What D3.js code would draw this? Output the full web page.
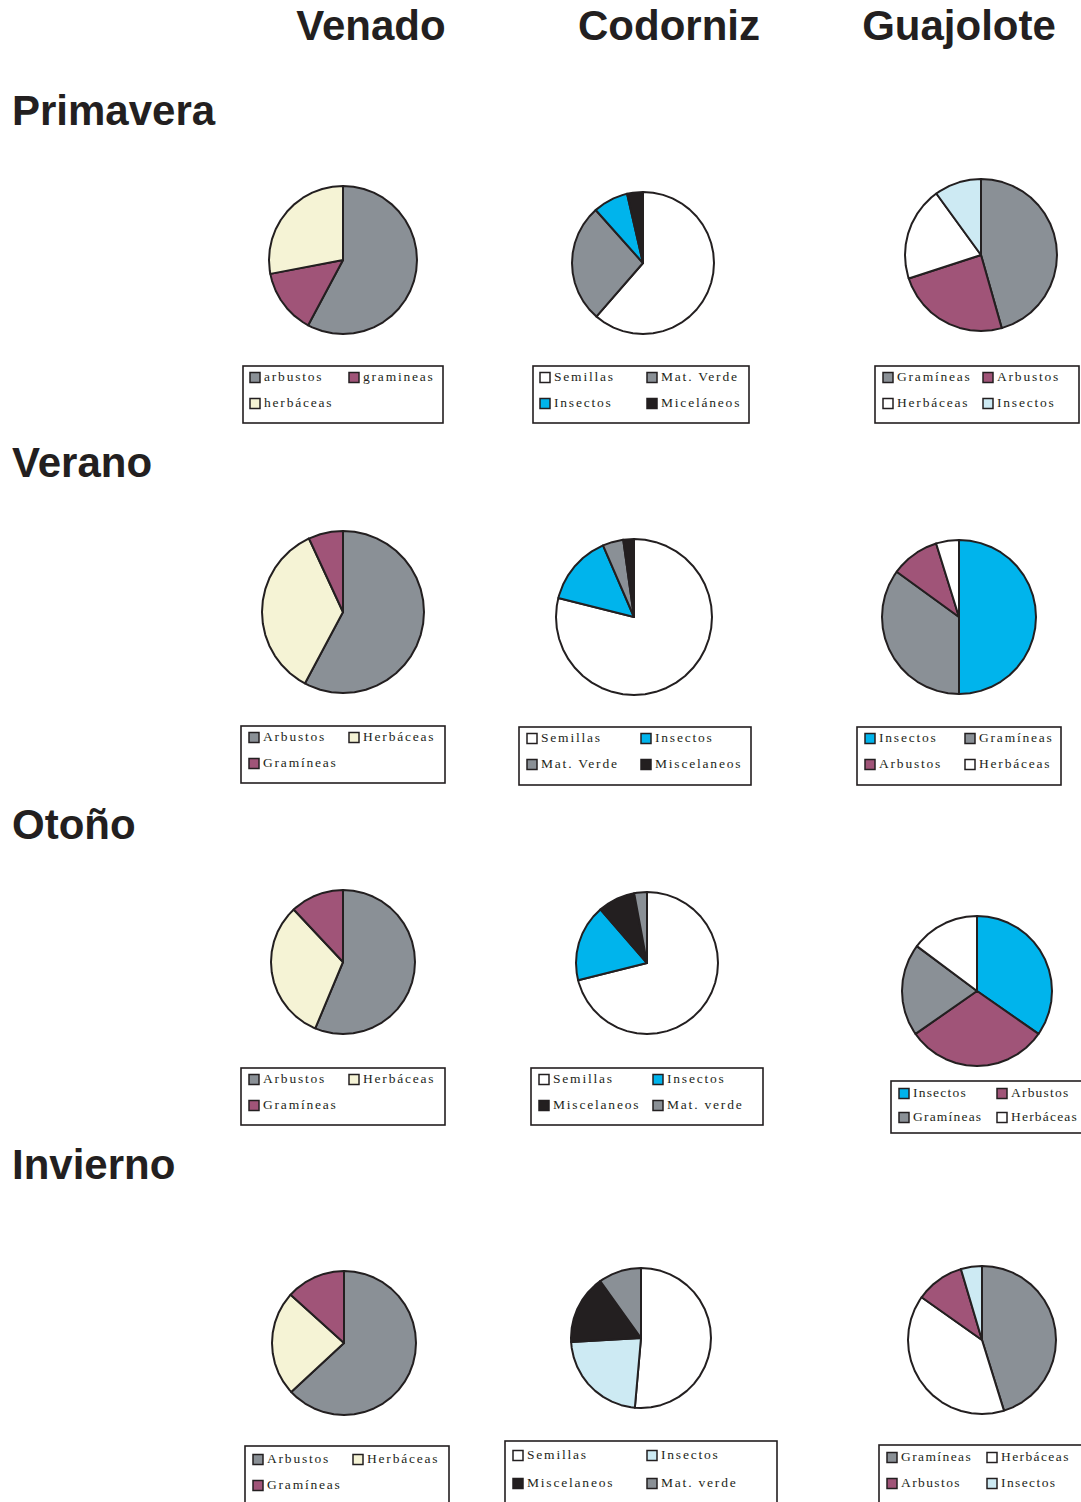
<!DOCTYPE html>
<html><head><meta charset="utf-8">
<script src="https://cdn.jsdelivr.net/npm/d3@7"></script>
<style>body{margin:0;background:#fff}svg{display:block}</style>
</head><body>
<script>
// ---- data ----
const animals = ["Venado", "Codorniz", "Guajolote"];
const seasons = ["Primavera", "Verano", "Otoño", "Invierno"];

const primaveraVenadoLabels = ["arbustos", "gramineas", "herbáceas"];
const primaveraVenadoValues = [57.8, 14.2, 28.0];
const primaveraCodornizLabels = ["Semillas", "Mat. Verde", "Insectos", "Miceláneos"];
const primaveraCodornizValues = [61.4, 27.0, 8.0, 3.6];
const primaveraGuajoloteLabels = ["Gramíneas", "Arbustos", "Herbáceas", "Insectos"];
const primaveraGuajoloteValues = [45.6, 24.4, 20.0, 10.0];

const veranoVenadoLabels = ["Arbustos", "Herbáceas", "Gramíneas"];
const veranoVenadoValues = [57.8, 35.3, 6.9];
const veranoCodornizLabels = ["Semillas", "Insectos", "Mat. Verde", "Miscelaneos"];
const veranoCodornizValues = [78.9, 14.6, 4.3, 2.2];
const veranoGuajoloteLabels = ["Insectos", "Gramíneas", "Arbustos", "Herbáceas"];
const veranoGuajoloteValues = [50.0, 35.0, 10.2, 4.8];

const otonoVenadoLabels = ["Arbustos", "Herbáceas", "Gramíneas"];
const otonoVenadoValues = [56.3, 31.7, 12.0];
const otonoCodornizLabels = ["Semillas", "Insectos", "Miscelaneos", "Mat. verde"];
const otonoCodornizValues = [71.1, 17.5, 8.5, 2.9];
const otonoGuajoloteLabels = ["Insectos", "Arbustos", "Gramíneas", "Herbáceas"];
const otonoGuajoloteValues = [34.7, 30.6, 19.9, 14.8];

const inviernoVenadoLabels = ["Arbustos", "Herbáceas", "Gramíneas"];
const inviernoVenadoValues = [63.1, 23.6, 13.3];
const inviernoCodornizLabels = ["Semillas", "Insectos", "Miscelaneos", "Mat. verde"];
const inviernoCodornizValues = [51.4, 22.7, 16.0, 9.9];
const inviernoGuajoloteLabels = ["Gramíneas", "Herbáceas", "Arbustos", "Insectos"];
const inviernoGuajoloteValues = [45.2, 39.6, 10.6, 4.6];

// ---- colours ----
const C = {gray:"#8a9096", purple:"#a05478", cream:"#f5f3d5", blue:"#00b4ec",
           black:"#231f20", lightblue:"#cdeaf3", white:"#ffffff"};

// ---- layout: pie centre/radius, legend box, legend columns ----
const pies = [
  {lab:primaveraVenadoLabels, val:primaveraVenadoValues, col:[C.gray,C.purple,C.cream],
   cx:343, cy:260, r:74, box:[243,366,200,57], cols:[250,349]},
  {lab:primaveraCodornizLabels, val:primaveraCodornizValues, col:[C.white,C.gray,C.blue,C.black],
   cx:643, cy:263, r:71, box:[533,366,216,57], cols:[540,647]},
  {lab:primaveraGuajoloteLabels, val:primaveraGuajoloteValues, col:[C.gray,C.purple,C.white,C.lightblue],
   cx:981, cy:255, r:76, box:[875,366,204,57], cols:[883,983]},

  {lab:veranoVenadoLabels, val:veranoVenadoValues, col:[C.gray,C.cream,C.purple],
   cx:343, cy:612, r:81, box:[241,726,204,57], cols:[249,349]},
  {lab:veranoCodornizLabels, val:veranoCodornizValues, col:[C.white,C.blue,C.gray,C.black],
   cx:634, cy:617, r:78, box:[519,727,232,58], cols:[527,641]},
  {lab:veranoGuajoloteLabels, val:veranoGuajoloteValues, col:[C.blue,C.gray,C.purple,C.white],
   cx:959, cy:617, r:77, box:[857,727,204,58], cols:[865,965]},

  {lab:otonoVenadoLabels, val:otonoVenadoValues, col:[C.gray,C.cream,C.purple],
   cx:343, cy:962, r:72, box:[241,1068,204,57], cols:[249,349]},
  {lab:otonoCodornizLabels, val:otonoCodornizValues, col:[C.white,C.blue,C.black,C.gray],
   cx:647, cy:963, r:71, box:[531,1068,232,57], cols:[539,653]},
  {lab:otonoGuajoloteLabels, val:otonoGuajoloteValues, col:[C.blue,C.purple,C.gray,C.white],
   cx:977, cy:991, r:75, box:[891,1081,200,52], cols:[899,997], dy:[16,40], ls:1.2},

  {lab:inviernoVenadoLabels, val:inviernoVenadoValues, col:[C.gray,C.cream,C.purple],
   cx:344, cy:1343, r:72, box:[245,1446,204,60], cols:[253,353], dy:[17,43]},
  {lab:inviernoCodornizLabels, val:inviernoCodornizValues, col:[C.white,C.lightblue,C.black,C.gray],
   cx:641, cy:1338, r:70, box:[505,1441,272,66], cols:[513,647], dy:[18,46]},
  {lab:inviernoGuajoloteLabels, val:inviernoGuajoloteValues, col:[C.gray,C.white,C.purple,C.lightblue],
   cx:982, cy:1340, r:74, box:[879,1445,210,62], cols:[887,987], dy:[16,42], ls:1.4}
];

const W = 1081, H = 1502;
const svg = d3.select("body").append("svg").attr("width", W).attr("height", H);
const ink = "#231f20";

// column titles
const colX = [371, 669, 959];
svg.selectAll("text.animal").data(animals).join("text")
  .attr("class","animal")
  .attr("x", (d,i) => colX[i]).attr("y", 40)
  .attr("text-anchor","middle")
  .attr("font-family","'Liberation Sans', Arial, sans-serif")
  .attr("font-weight","bold").attr("font-size", 42).attr("fill", ink)
  .text(d => d);

// row titles
const rowY = [125, 477, 839, 1179];
svg.selectAll("text.season").data(seasons).join("text")
  .attr("class","season")
  .attr("x", 12).attr("y", (d,i) => rowY[i])
  .attr("font-family","'Liberation Sans', Arial, sans-serif")
  .attr("font-weight","bold").attr("font-size", 42).attr("fill", ink)
  .text(d => d);

// polygonal slice path (mimics the faceted outline of the original)
function slicePath(a0, a1, r) {
  const step = Math.PI / 22;
  const pts = [[0,0]];
  const pt = a => [r*Math.sin(a), -r*Math.cos(a)];
  pts.push(pt(a0));
  let k = Math.ceil(a0/step + 1e-9);
  while (k*step < a1 - 1e-9) { pts.push(pt(k*step)); k++; }
  pts.push(pt(a1));
  return d3.line()(pts) + "Z";
}

const pieGen = d3.pie().sort(null).value(d => d);

pies.forEach(p => {
  const g = svg.append("g").attr("transform", `translate(${p.cx},${p.cy})`);
  const arcs = pieGen(p.val);
  g.selectAll("path").data(arcs).join("path")
    .attr("d", d => slicePath(d.startAngle, d.endAngle, p.r))
    .attr("fill", (d,i) => p.col[i])
    .attr("stroke", ink).attr("stroke-width", 2).attr("stroke-linejoin","round");

  // legend
  const [bx, by, bw, bh] = p.box;
  svg.append("rect").attr("x", bx).attr("y", by).attr("width", bw).attr("height", bh)
    .attr("fill","none").attr("stroke", ink).attr("stroke-width", 1.6);
  const dy = p.dy || [15, 41];
  const lg = svg.append("g");
  const items = lg.selectAll("g").data(p.lab).join("g")
    .attr("transform", (d,i) => `translate(${p.cols[i%2]},${by + dy[Math.floor(i/2)]})`);
  items.append("rect").attr("x", 0).attr("y", -8.5).attr("width", 10).attr("height", 10)
    .attr("fill", (d,i) => p.col[i]).attr("stroke", ink).attr("stroke-width", 1.5);
  items.append("text").attr("x", 14).attr("y", 0)
    .attr("font-family","'Liberation Serif', 'Times New Roman', serif")
    .attr("font-size", 13.5).attr("letter-spacing", p.ls != null ? p.ls : 1.8).attr("fill", ink)
    .text(d => d);
});
</script>
</body></html>
